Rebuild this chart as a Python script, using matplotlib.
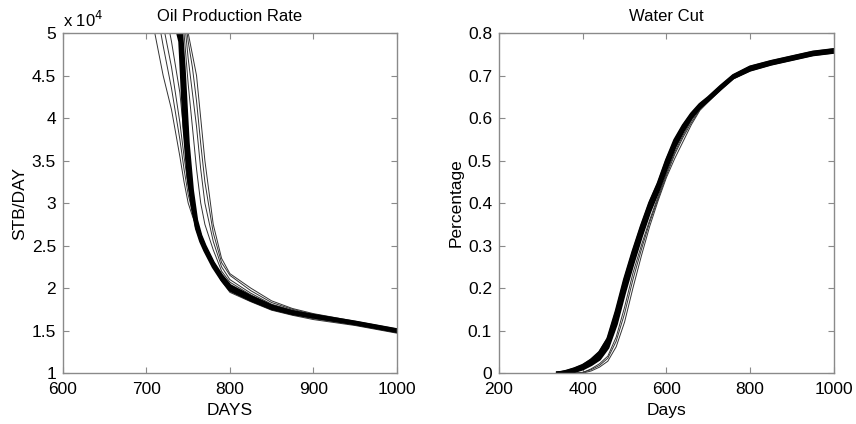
import matplotlib
matplotlib.use("Agg")
import matplotlib.pyplot as plt

plt.rcParams['font.family'] = ['Liberation Sans', 'DejaVu Sans']

# oil production rate, units of 1e4 STB/day
oil_days = [700, 710, 720, 730, 740, 745, 750, 755, 760, 765, 770, 780, 790, 800,
            825, 850, 875, 900, 950, 1000]
oil_thick = [
    [6.4, 6.0, 5.7, 5.4, 5.1, 4.1, 3.4, 3.0, 2.72, 2.58, 2.46, 2.28, 2.12, 2.0, 1.88, 1.77, 1.71, 1.67, 1.59, 1.50],
    [6.5, 6.2, 5.9, 5.6, 5.3, 4.6, 3.7, 3.15, 2.8, 2.62, 2.5, 2.3, 2.15, 2.03, 1.9, 1.79, 1.72, 1.68, 1.60, 1.51],
    [6.3, 5.9, 5.6, 5.3, 4.9, 3.9, 3.3, 2.95, 2.7, 2.55, 2.44, 2.25, 2.1, 1.98, 1.86, 1.76, 1.70, 1.66, 1.58, 1.49],
    [6.4, 6.1, 5.8, 5.5, 5.2, 4.4, 3.55, 3.05, 2.75, 2.6, 2.48, 2.29, 2.13, 2.01, 1.89, 1.78, 1.72, 1.67, 1.59, 1.50],
]
oil_thin = [
    [5.6, 5.0, 4.5, 4.1, 3.55, 3.25, 3.0, 2.85, 2.72, 2.6, 2.48, 2.27, 2.08, 1.95, 1.84, 1.74, 1.68, 1.63, 1.56, 1.47],
    [6.0, 5.4, 4.85, 4.35, 3.75, 3.4, 3.1, 2.9, 2.74, 2.6, 2.48, 2.27, 2.09, 1.96, 1.85, 1.75, 1.69, 1.64, 1.57, 1.48],
    [6.2, 5.7, 5.1, 4.6, 3.95, 3.55, 3.2, 2.95, 2.76, 2.61, 2.49, 2.28, 2.1, 1.97, 1.86, 1.76, 1.70, 1.65, 1.58, 1.49],
    [6.3, 5.9, 5.4, 4.9, 4.3, 3.8, 3.35, 3.0, 2.78, 2.62, 2.5, 2.3, 2.12, 1.99, 1.87, 1.77, 1.70, 1.65, 1.58, 1.49],
    [6.6, 6.4, 6.2, 6.0, 5.7, 5.4, 5.0, 4.75, 4.5, 4.0, 3.5, 2.75, 2.35, 2.17, 2.0, 1.85, 1.76, 1.70, 1.61, 1.52],
    [6.6, 6.4, 6.2, 5.9, 5.6, 5.3, 4.9, 4.6, 4.2, 3.7, 3.25, 2.65, 2.3, 2.15, 1.97, 1.83, 1.75, 1.69, 1.60, 1.51],
    [6.5, 6.3, 6.1, 5.8, 5.5, 5.2, 4.7, 4.3, 3.9, 3.4, 3.0, 2.55, 2.25, 2.1, 1.94, 1.81, 1.74, 1.68, 1.60, 1.51],
    [6.5, 6.3, 6.0, 5.7, 5.4, 5.0, 4.4, 3.9, 3.4, 3.0, 2.75, 2.45, 2.2, 2.07, 1.92, 1.80, 1.73, 1.68, 1.59, 1.50],
]

# water cut, fraction
wc_days = [340, 360, 380, 400, 420, 440, 460, 480, 500, 520, 540, 560, 580, 600,
           620, 640, 660, 680, 700, 730, 760, 800, 850, 900, 950, 1000]
wc_thick = [
    [0.0, 0.002, 0.007, 0.014, 0.025, 0.04, 0.07, 0.13, 0.205, 0.27, 0.335, 0.39, 0.435, 0.49, 0.54, 0.575, 0.606, 0.628, 0.645, 0.672, 0.698, 0.716, 0.730, 0.741, 0.752, 0.758],
    [0.0, 0.004, 0.01, 0.018, 0.03, 0.048, 0.08, 0.145, 0.22, 0.285, 0.345, 0.4, 0.445, 0.5, 0.548, 0.582, 0.61, 0.632, 0.648, 0.675, 0.70, 0.72, 0.733, 0.744, 0.755, 0.761],
    [0.0, 0.0, 0.004, 0.01, 0.02, 0.033, 0.06, 0.115, 0.19, 0.258, 0.322, 0.38, 0.428, 0.482, 0.532, 0.57, 0.602, 0.625, 0.642, 0.669, 0.695, 0.713, 0.727, 0.738, 0.749, 0.755],
    [0.0, 0.001, 0.005, 0.012, 0.022, 0.037, 0.065, 0.122, 0.198, 0.264, 0.328, 0.385, 0.432, 0.486, 0.536, 0.572, 0.604, 0.627, 0.644, 0.671, 0.697, 0.715, 0.729, 0.740, 0.751, 0.757],
]
wc_thin = [
    [0.0, 0.0, 0.0, 0.002, 0.008, 0.018, 0.035, 0.075, 0.14, 0.22, 0.29, 0.355, 0.41, 0.465, 0.515, 0.555, 0.59, 0.62, 0.64, 0.668, 0.693, 0.712, 0.726, 0.737, 0.748, 0.754],
    [0.0, 0.0, 0.0, 0.0, 0.005, 0.014, 0.028, 0.062, 0.12, 0.2, 0.275, 0.345, 0.405, 0.46, 0.505, 0.545, 0.585, 0.618, 0.638, 0.667, 0.692, 0.711, 0.725, 0.736, 0.747, 0.753],
    [0.0, 0.0, 0.0, 0.001, 0.01, 0.022, 0.04, 0.085, 0.155, 0.235, 0.30, 0.36, 0.415, 0.47, 0.52, 0.56, 0.595, 0.622, 0.641, 0.669, 0.694, 0.713, 0.727, 0.738, 0.749, 0.755],
    [0.002, 0.006, 0.012, 0.02, 0.034, 0.052, 0.085, 0.15, 0.225, 0.29, 0.35, 0.405, 0.45, 0.505, 0.55, 0.585, 0.612, 0.634, 0.65, 0.677, 0.702, 0.722, 0.735, 0.746, 0.757, 0.763],
]

frame_col = '#8a8a8a'
fs = 12.5


def style_axes(ax):
    for sp in ax.spines.values():
        sp.set_color(frame_col)
        sp.set_linewidth(1.0)
    ax.tick_params(direction='in', top=True, right=True, length=4,
                   color=frame_col, labelsize=fs)
    ax.tick_params(axis='x', pad=6.5)
    ax.tick_params(axis='y', pad=5)


fig = plt.figure(figsize=(8.56, 4.24), dpi=100)
ax1 = fig.add_axes([0.0736, 0.120, 0.390, 0.802])
ax2 = fig.add_axes([0.583, 0.120, 0.391, 0.802])

for ys in oil_thin:
    ax1.plot(oil_days, ys, color='#333333', lw=0.7)
for ys in oil_thick:
    ax1.plot(oil_days, ys, color='black', lw=2.3)
ax1.set_xlim(600, 1000)
ax1.set_ylim(1, 5)
ax1.set_xticks([600, 700, 800, 900, 1000])
ax1.set_yticks([1, 1.5, 2, 2.5, 3, 3.5, 4, 4.5, 5])
ax1.set_yticklabels(['1', '1.5', '2', '2.5', '3', '3.5', '4', '4.5', '5'])
ax1.set_title('Oil Production Rate', fontsize=12, pad=9)
ax1.set_xlabel('DAYS', fontsize=fs, labelpad=4)
ax1.set_ylabel('STB/DAY', fontsize=fs, labelpad=3)
ax1.text(0.0, 1.01, 'x 10$^4$', transform=ax1.transAxes, fontsize=12,
         ha='left', va='bottom')
style_axes(ax1)

for ys in wc_thin:
    ax2.plot(wc_days, ys, color='#333333', lw=0.7)
for ys in wc_thick:
    ax2.plot(wc_days, ys, color='black', lw=2.3)
ax2.set_xlim(200, 1000)
ax2.set_ylim(0, 0.8)
ax2.set_xticks([200, 400, 600, 800, 1000])
ax2.set_yticks([0, 0.1, 0.2, 0.3, 0.4, 0.5, 0.6, 0.7, 0.8])
ax2.set_yticklabels(['0', '0.1', '0.2', '0.3', '0.4', '0.5', '0.6', '0.7', '0.8'])
ax2.set_title('Water Cut', fontsize=12, pad=9)
ax2.set_xlabel('Days', fontsize=fs, labelpad=4)
ax2.set_ylabel('Percentage', fontsize=fs, labelpad=3)
style_axes(ax2)

fig.savefig('out.png', dpi=100)
